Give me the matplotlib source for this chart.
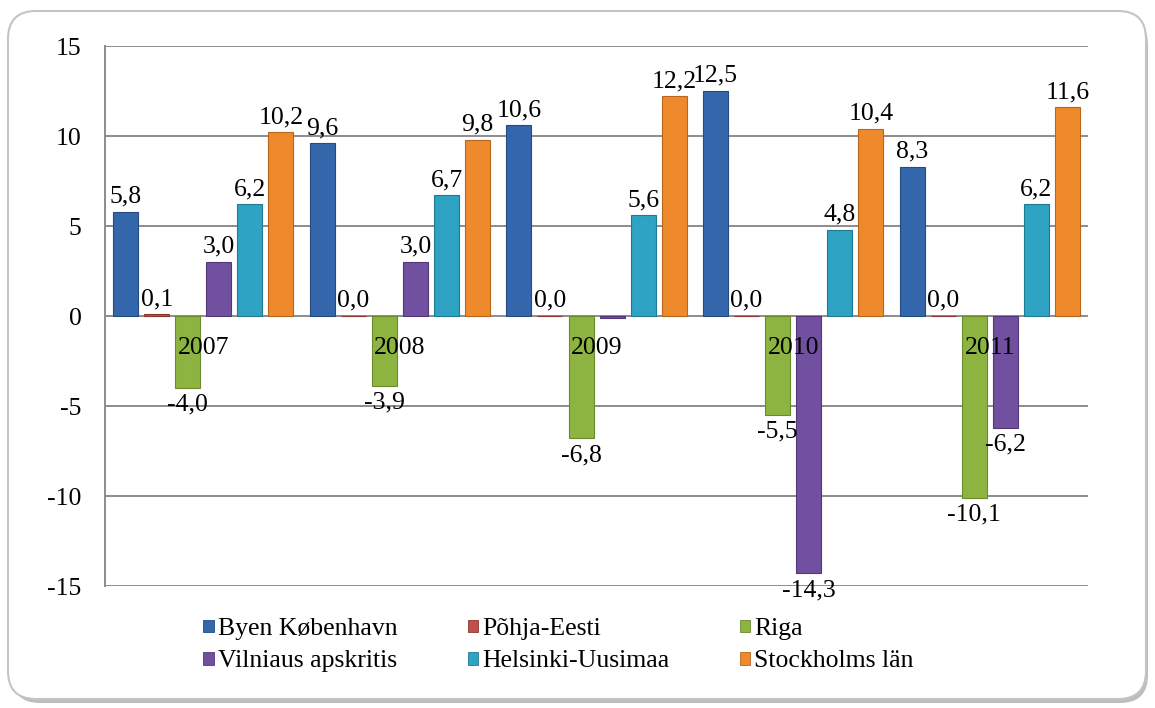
import numpy as np
import matplotlib
matplotlib.use("Agg")
import matplotlib.pyplot as plt
from matplotlib.patches import FancyBboxPatch, Patch
from matplotlib import font_manager

# -----------------------------------------------------------
# Données
# -----------------------------------------------------------
annees = ["2007", "2008", "2009", "2010", "2011"]
series = ["Byen København", "Põhja-Eesti", "Riga",
          "Vilniaus apskritis", "Helsinki-Uusimaa", "Stockholms län"]

kobenhavn = [5.8, 9.6, 10.6, 12.5, 8.3]
pohja_eesti = [0.1, 0.0, 0.0, 0.0, 0.0]
riga = [-4.0, -3.9, -6.8, -5.5, -10.1]
vilnius = [3.0, 3.0, -0.1, -14.3, -6.2]
helsinki = [6.2, 6.7, 5.6, 4.8, 6.2]
stockholm = [10.2, 9.8, 12.2, 10.4, 11.6]

# étiquettes visibles (la barre Vilnius 2009 n'en a pas)
afficher = {3: [True, True, False, True, True]}

valeurs = [kobenhavn, pohja_eesti, riga, vilnius, helsinki, stockholm]
couleurs = ["#3366AA", "#C0504D", "#8DB440", "#7150A0", "#2EA3C4", "#EE8A2C"]
bords = ["#244C82", "#8E3532", "#6A8A2C", "#523878", "#1F7A94", "#B8661C"]

plt.rcParams['font.family'] = 'serif'
plt.rcParams['font.serif'] = ['Liberation Serif', 'DejaVu Serif']
print(font_manager.findfont("serif"))

fig = plt.figure(figsize=(11.55, 7.08), dpi=100)

# cadre arrondi avec ombre
ombre = FancyBboxPatch((0.12, 0.05), 11.36, 6.86, boxstyle="round,pad=0,rounding_size=0.28",
                       transform=fig.dpi_scale_trans, facecolor="#BDBDBD", edgecolor="none", zorder=-2)
cadre = FancyBboxPatch((0.08, 0.09), 11.38, 6.88, boxstyle="round,pad=0,rounding_size=0.28",
                       transform=fig.dpi_scale_trans, facecolor="white", edgecolor="#C4C4C4",
                       linewidth=1.5, zorder=-1)
fig.patches.extend([ombre, cadre])

ax = fig.add_axes([0.0909, 0.1723, 0.8512, 0.7627])
ax.set_facecolor("none")

x = np.arange(len(annees))
pas = 0.158
largeur = 0.127

for i, (nom, vals) in enumerate(zip(series, valeurs)):
    pos = x + (i - 2.5) * pas
    ax.bar(pos, vals, largeur, color=couleurs[i], edgecolor=bords[i], linewidth=0.8,
           label=nom, zorder=3)
    for k, (px, v) in enumerate(zip(pos, vals)):
        if not afficher.get(i, [True] * 5)[k]:
            continue
        txt = f"{v:.1f}".replace(".", ",")
        if v < 0:
            ax.annotate(txt, (px, v), xytext=(0, -4), textcoords="offset points",
                        ha="center", va="top", fontsize=18.5, zorder=6)
        else:
            ax.annotate(txt, (px, v), xytext=(0, 3), textcoords="offset points",
                        ha="center", va="bottom", fontsize=18.5, zorder=6)

# années posées sur l'axe zéro, devant les barres
for xi, a in zip(x, annees):
    ax.annotate(a, (xi, 0), xytext=(0, -15), textcoords="offset points",
                ha="center", va="top", fontsize=18.5, zorder=7)

ax.set_xlim(-0.5, 4.5)
ax.set_ylim(-15, 15)
ax.set_xticks([])
ax.set_yticks([-15, -10, -5, 0, 5, 10, 15])
ax.set_yticklabels(["-15", "-10", "-5", "0", "5", "10", "15"], fontsize=18.5)
ax.tick_params(axis="y", length=0, pad=17)

ax.set_axisbelow(True)
ax.yaxis.grid(True, color="#8C8C8C", linewidth=1.4)
for s in ["top", "right", "bottom"]:
    ax.spines[s].set_visible(False)
ax.spines["left"].set_color("#8C8C8C")
ax.spines["left"].set_linewidth(1.4)

poignees = [Patch(facecolor=c, edgecolor=b, linewidth=0.6) for c, b in zip(couleurs, bords)]
ordre = [0, 3, 1, 4, 2, 5]
fig.legend([poignees[j] for j in ordre], [series[j] for j in ordre], ncol=3,
           loc="upper left", bbox_to_anchor=(0.165, 0.145), frameon=False,
           fontsize=18.5, handlelength=0.4, handleheight=0.4, handletextpad=0.15,
           columnspacing=2.75, labelspacing=0.4, borderpad=0)

fig.savefig("out.png", dpi=100)
